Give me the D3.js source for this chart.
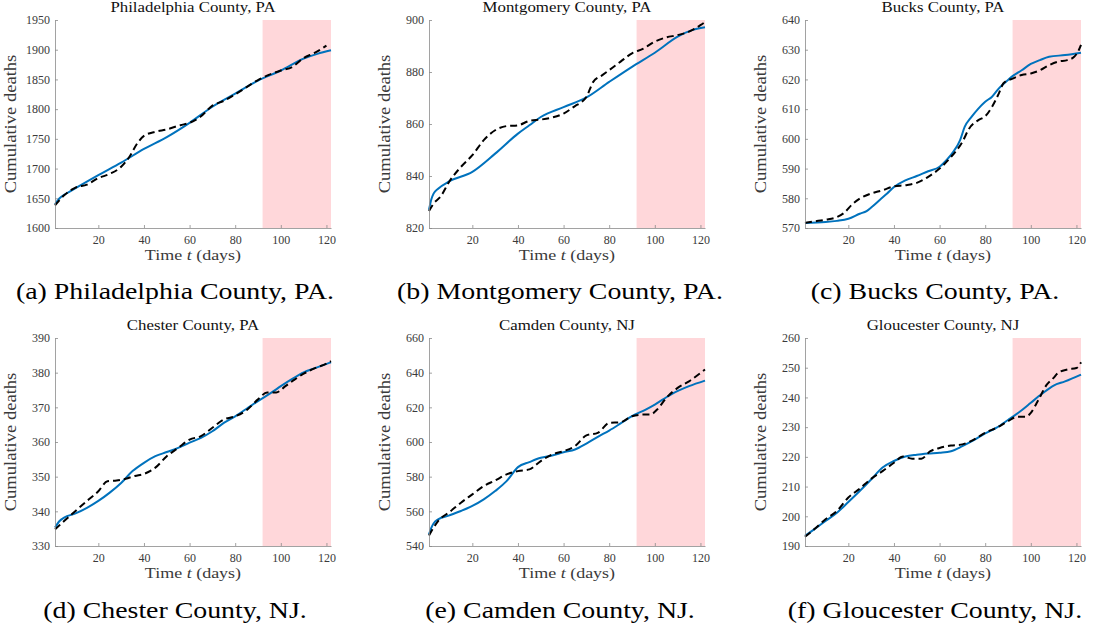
<!DOCTYPE html>
<html>
<head>
<meta charset="utf-8">
<script src="https://cdn.jsdelivr.net/npm/d3@7"></script>
<style>
  html, body { margin: 0; padding: 0; background: #fff; }
  svg { display: block; }
  text { font-family: "Liberation Serif", "DejaVu Serif", serif; }
</style>
</head>
<body>
<svg id="fig" width="1094" height="634"></svg>
<script>
// Cumulative COVID-19 deaths: model fit (solid) vs. reported data (dashed),
// prediction window shaded from day 92 onward.

const panelTitles = ["Philadelphia County, PA", "Montgomery County, PA", "Bucks County, PA",
                     "Chester County, PA", "Camden County, NJ", "Gloucester County, NJ"];
const captions = ["(a) Philadelphia County, PA.", "(b) Montgomery County, PA.", "(c) Bucks County, PA.",
                  "(d) Chester County, NJ.", "(e) Camden County, NJ.", "(f) Gloucester County, NJ."];

const dayRange = [1, 122];
const predictionStart = 92;
const xTicks = [20, 40, 60, 80, 100, 120];

const yTicksPhiladelphia = [1600, 1650, 1700, 1750, 1800, 1850, 1900, 1950];
const yTicksMontgomery = [820, 840, 860, 880, 900];
const yTicksBucks = [570, 580, 590, 600, 610, 620, 630, 640];
const yTicksChester = [330, 340, 350, 360, 370, 380, 390];
const yTicksCamden = [540, 560, 580, 600, 620, 640, 660];
const yTicksGloucester = [190, 200, 210, 220, 230, 240, 250, 260];

// [day, cumulative deaths]
const fitPhiladelphia = [[1,1640],[3,1650],[6,1658],[10,1667],[20,1689],[30,1710],[40,1733],[50,1753],
  [60,1777],[70,1804],[80,1826],[90,1848],[100,1865],[110,1885],[116,1893],[122,1899]];
const dataPhiladelphia = [[1,1638],[5,1655],[10,1668],[15,1673],[20,1684],[25,1691],[30,1703],[34,1722],
  [37,1742],[40,1755],[45,1762],[50,1766],[56,1773],[60,1777],[65,1788],[70,1806],[75,1814],[80,1825],
  [85,1837],[90,1849],[95,1858],[100,1865],[105,1871],[110,1886],[115,1895],[120,1907]];

const fitMontgomery = [[1,827],[2,831],[3,833.2],[5,835.1],[10,838],[20,841.6],[30,848.6],[40,856.3],
  [45,859.5],[50,862.7],[60,866.5],[70,870.2],[80,876.2],[90,882],[100,887.4],[110,893.6],[116,896],[122,897.2]];
const dataMontgomery = [[1,826.5],[3,829.4],[6,832],[10,838],[15,843.5],[20,848],[25,853.8],[30,857.6],
  [35,859.2],[40,859.5],[45,861.2],[50,861.7],[55,862.5],[60,864],[65,866.9],[68,868.5],[70,870.4],
  [73,876.2],[77,878.8],[80,880.7],[85,884],[90,887.2],[95,889],[100,891.7],[105,893.3],[110,894.2],
  [115,895.5],[120,898],[122,899.2]];

const fitBucks = [[1,571.7],[10,572],[15,572.4],[20,573.1],[25,574.8],[28,575.7],[30,576.9],[34,579.6],
  [37,581.6],[40,583.8],[45,586],[50,587.5],[55,589.1],[60,590.6],[63,592.8],[66,595.6],[69,599.6],
  [71,604],[74,607.4],[77,610.2],[80,612.5],[83,614.2],[86,617],[90,619.8],[92,621.1],[96,623.1],
  [100,625.2],[104,626.5],[108,627.6],[115,628.2],[122,629]];
const dataBucks = [[1,571.7],[5,572.2],[10,572.8],[15,573.7],[18,575],[22,578.2],[25,579.9],[30,581.6],
  [35,582.7],[40,584],[45,584.4],[50,585.2],[55,587.2],[60,590],[65,593.9],[70,599],[73,603.5],
  [77,606.3],[80,607.6],[83,610.8],[86,615.3],[88,618.7],[92,620.3],[96,621.5],[100,622],[104,623.1],
  [108,624.8],[112,626],[116,626.5],[119,627.6],[121,629.8],[122,631.6]];

const fitChester = [[1,335.3],[3,337.2],[5,338.2],[10,339.4],[15,341],[20,343],[25,345.4],[30,348.2],
  [35,351.6],[40,354],[45,355.9],[50,357.1],[55,358.3],[60,359.8],[65,361.2],[70,363.1],[75,365.5],
  [80,367.4],[85,369.6],[90,371.8],[96,374.3],[100,376.1],[105,378.2],[110,380.1],[115,381.3],[122,383]];
const dataChester = [[1,334.8],[5,337.2],[10,340.1],[15,343],[20,345.8],[24,348.7],[28,348.9],[32,349.4],
  [36,350.2],[40,350.8],[45,352.6],[50,355.9],[55,358.3],[60,360.7],[65,361.7],[70,364.1],[75,366.5],
  [80,367.4],[85,369.2],[90,372.3],[94,374.3],[98,374.3],[102,376.1],[106,378],[110,379.7],[115,381.3],
  [120,382.6],[122,383.3]];

const fitCamden = [[1,546.7],[2,550.5],[3,553],[5,555.4],[10,557.7],[15,560.2],[20,563.1],[25,566.9],[30,571.7],
  [35,577.4],[40,585.5],[45,588.4],[50,590.9],[55,592.2],[60,594.1],[65,595.7],[70,599.1],[75,603],
  [80,606.6],[85,610.7],[90,614.9],[96,618.7],[100,621.6],[107,627.4],[115,632.2],[122,635.4]];
const dataCamden = [[1,546.1],[5,554.4],[10,559.6],[15,565],[20,569.8],[25,574.6],[30,577.8],[35,581.3],
  [40,583.2],[45,584.2],[50,589],[55,592.8],[60,594.7],[65,597.6],[70,603.8],[75,605.3],[80,611],
  [85,611.4],[90,614.9],[95,615.8],[98,615.8],[101,618.7],[105,625.4],[110,631.2],[115,635],[120,639.8],
  [122,641.8]];

const fitGloucester = [[1,193.4],[5,195.6],[10,198.4],[15,201.2],[20,204.8],[25,208.5],[30,212.4],
  [35,216.4],[40,218.6],[45,220.1],[50,220.7],[55,221.1],[60,221.4],[65,221.9],[70,223.6],[75,225.6],
  [80,227.9],[85,229.8],[90,232.4],[96,235.7],[100,238.2],[105,241.3],[110,244],[115,245.4],[122,247.7]];
const dataGloucester = [[1,193.1],[5,195.6],[10,199],[15,201.8],[20,206.3],[25,209.3],[30,212.6],
  [35,215.2],[40,218],[44,220.1],[48,219.4],[52,219.4],[56,221.9],[60,223],[65,223.8],[70,224.2],
  [75,225.8],[80,228.1],[85,229.8],[90,232],[94,233.5],[98,233.5],[100,234.8],[103,238.7],[107,244.3],
  [110,246.6],[112,248.3],[116,249.4],[120,249.9],[122,251.8]];

const yTickSets = [yTicksPhiladelphia, yTicksMontgomery, yTicksBucks, yTicksChester, yTicksCamden, yTicksGloucester];
const fits = [fitPhiladelphia, fitMontgomery, fitBucks, fitChester, fitCamden, fitGloucester];
const observed = [dataPhiladelphia, dataMontgomery, dataBucks, dataChester, dataCamden, dataGloucester];

// Panel layout
const colLeft = [55, 429, 805];
const plotW = 276;
const rowTop = [20, 338];
const plotH = 208;
const captionCenter = [175, 560, 935];
const captionBaseline = [299, 618];

const fitColor = "#0072BD";
const shadeColor = "#FFD7DA";
const axisColor = "#8a8a8a";
const labelColor = "#3a3a3a";
const serif = '"Liberation Serif", "DejaVu Serif", serif';
const widen = 1.16; // stretch Times-like glyphs toward a wider book face

// stretch a text element horizontally around its anchor
function stretch(sel, k) {
  sel.each(function () {
    const w = this.getComputedTextLength();
    d3.select(this).attr("textLength", w * k).attr("lengthAdjust", "spacingAndGlyphs");
  });
}

const svg = d3.select("#fig");

panelTitles.forEach((title, i) => {
  const col = i % 3, row = Math.floor(i / 3);
  const ticks = yTickSets[i];
  const g = svg.append("g").attr("transform", `translate(${colLeft[col]},${rowTop[row]})`);

  const x = d3.scaleLinear().domain(dayRange).range([0, plotW]);
  const y = d3.scaleLinear().domain([ticks[0], ticks[ticks.length - 1]]).range([plotH, 0]);

  // prediction window
  g.append("rect")
    .attr("x", x(predictionStart)).attr("y", 0)
    .attr("width", x(dayRange[1]) - x(predictionStart)).attr("height", plotH)
    .attr("fill", shadeColor);

  const line = d3.line().x(d => x(d[0])).y(d => y(d[1])).curve(d3.curveMonotoneX);

  g.append("path").datum(fits[i])
    .attr("d", line).attr("fill", "none")
    .attr("stroke", fitColor).attr("stroke-width", 2);

  g.append("path").datum(observed[i])
    .attr("d", line).attr("fill", "none")
    .attr("stroke", "#000").attr("stroke-width", 2)
    .attr("stroke-dasharray", "7,4");

  // axes (ticks point inward)
  const xAxis = g.append("g").attr("transform", `translate(0,${plotH})`)
    .call(d3.axisBottom(x).tickValues(xTicks).tickFormat(d3.format("d"))
      .tickSizeInner(-3).tickSizeOuter(0).tickPadding(7));
  const yAxis = g.append("g")
    .call(d3.axisLeft(y).tickValues(ticks).tickFormat(d3.format("d"))
      .tickSizeInner(-3).tickSizeOuter(0).tickPadding(5));
  [xAxis, yAxis].forEach(ax => {
    ax.attr("font-family", serif);
    ax.select(".domain").attr("stroke", axisColor).attr("stroke-width", 0.8);
    ax.selectAll(".tick line").attr("stroke", axisColor).attr("stroke-width", 0.8);
    ax.selectAll(".tick text").attr("fill", labelColor)
      .style("font-family", serif).style("font-size", "12px");
  });

  g.append("text")
    .attr("x", plotW / 2).attr("y", -8)
    .attr("text-anchor", "middle").attr("fill", "#111")
    .style("font-family", serif).style("font-size", "14.5px")
    .text(title)
    .call(stretch, widen);

  const xl = g.append("text")
    .attr("x", plotW / 2).attr("y", plotH + 32)
    .attr("text-anchor", "middle").attr("fill", labelColor)
    .style("font-family", serif).style("font-size", "15.5px");
  xl.append("tspan").text("Time ");
  xl.append("tspan").style("font-style", "italic").text("t");
  xl.append("tspan").text(" (days)");
  xl.call(stretch, widen);

  g.append("text")
    .attr("transform", `translate(${-39},${plotH / 2}) rotate(-90)`)
    .attr("text-anchor", "middle").attr("fill", labelColor)
    .style("font-family", serif).style("font-size", "16px")
    .text("Cumulative deaths")
    .call(stretch, widen);
});

captions.forEach((c, i) => {
  const col = i % 3, row = Math.floor(i / 3);
  svg.append("text")
    .attr("x", captionCenter[col]).attr("y", captionBaseline[row])
    .attr("text-anchor", "middle").attr("fill", "#000")
    .style("font-family", serif).style("font-size", "24px")
    .text(c)
    .call(stretch, widen);
});
</script>
</body>
</html>
